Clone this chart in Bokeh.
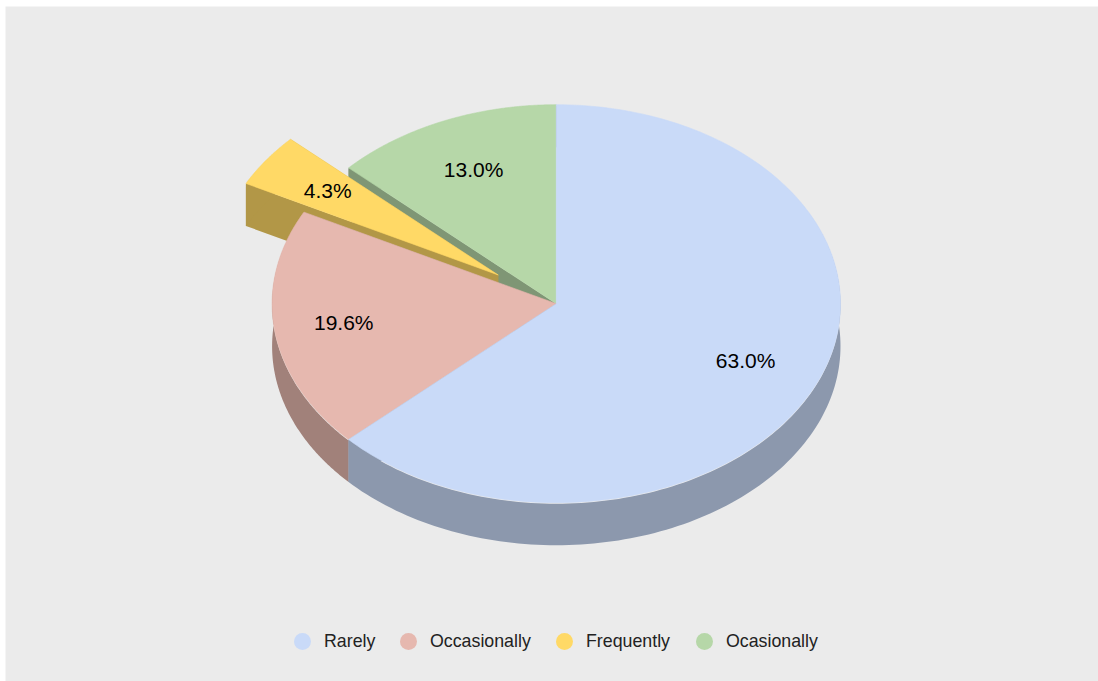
import numpy as np
from bokeh.core.properties import value
from bokeh.embed import file_html
from bokeh.plotting import figure
from bokeh.resources import INLINE

# Survey answers
categories = ["Rarely", "Occasionally", "Frequently", "Ocasionally"]
counts = [29, 9, 2, 6]
explode = [0.0, 0.0, 0.25, 0.0]
top_colors = ["#c9daf8", "#e6b8af", "#ffd966", "#b6d7a8"]
side_colors = ["#8c98ad", "#a1817a", "#b29747", "#7f9675"]

# Hand adjustments of the percentage labels, in pixels
label_dx = [-1, -7, -1, 0]
label_dy = [-1, -1, -1, -1]

# Pie geometry in page pixels
CX, CY = 555.8, 303.2
RX, RY = 284.2, 199.0
DEPTH = 42.5
LABEL_R = 0.73
FONT = value("Liberation Sans")

p = figure(
    width=1098, height=681,
    x_range=(5, 1098), y_range=(681, 6),
    output_backend="svg", toolbar_location=None,
    min_border_left=5, min_border_top=6, min_border_right=0, min_border_bottom=0,
)
p.axis.visible = False
p.grid.visible = False
p.outline_line_color = None
p.background_fill_color = "#ebebeb"
p.border_fill_color = "#ffffff"


def pt(angle, radius=1.0):
    """Ellipse point; angle runs clockwise from twelve o'clock."""
    return RX * radius * np.sin(angle), -RY * radius * np.cos(angle)


total = sum(counts)
fractions = np.array(counts) / total
edges = np.concatenate([[0.0], np.cumsum(fractions)]) * 2 * np.pi

# Back slices first so that nearer slices overlap them
for i in [3, 2, 1, 0]:
    a0, a1 = edges[i], edges[i + 1]
    mid = (a0 + a1) / 2
    ox, oy = pt(mid, explode[i])
    x0, y0 = CX + ox, CY + oy

    arc = np.linspace(a0, a1, 180)
    ax, ay = pt(arc)
    ax, ay = x0 + ax, y0 + ay

    # Extruded walls: both cut faces and the outer rim
    walls = [
        ([x0, ax[0], ax[0], x0], [y0, ay[0], ay[0] + DEPTH, y0 + DEPTH]),
        ([x0, ax[-1], ax[-1], x0], [y0, ay[-1], ay[-1] + DEPTH, y0 + DEPTH]),
        (np.r_[ax, ax[::-1]], np.r_[ay + 1, ay[::-1] + DEPTH]),
    ]
    for wx, wy in walls:
        p.patch(wx, wy, fill_color=side_colors[i], line_color=None)

    p.patch(np.r_[x0, ax], np.r_[y0, ay], fill_color=top_colors[i],
            line_color=top_colors[i], line_width=0.6)

    lx, ly = pt(mid, LABEL_R)
    p.text(
        [x0 + lx + label_dx[i]], [y0 + ly + label_dy[i]],
        text=[f"{fractions[i] * 100:.1f}%"],
        text_font=FONT, text_font_size="21px", text_color="#000000",
        text_align="center", text_baseline="middle",
    )

# Legend row
legend_swatch_x = [302, 408, 564, 704]
legend_text_x = [323.5, 429.5, 585.5, 725.5]
p.scatter(legend_swatch_x, [641] * 4, size=17, marker="circle",
          fill_color=top_colors, line_color=None)
p.text(
    legend_text_x, [640] * 4, text=categories,
    text_font=FONT, text_font_size="17.8px", text_color="#222222",
    text_align="left", text_baseline="middle",
)

open("out.html", "w").write(file_html(p, INLINE))
